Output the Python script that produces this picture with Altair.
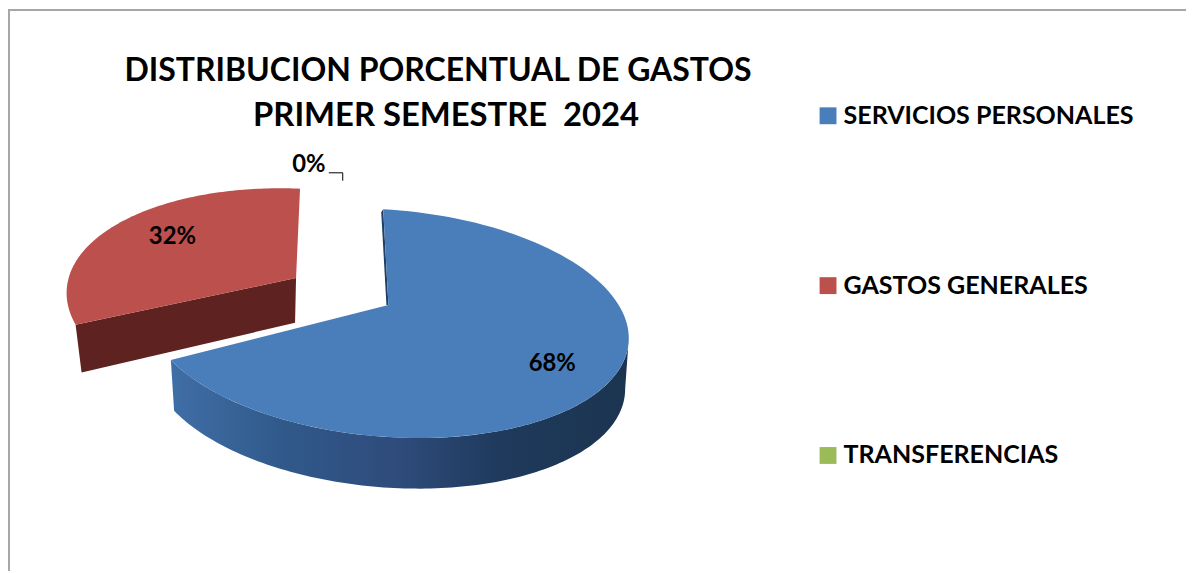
import math
import altair as alt

# --- data ---
categorias = ["SERVICIOS PERSONALES", "GASTOS GENERALES", "TRANSFERENCIAS"]
porcentajes = [68, 32, 0]
colores = ["#4a7ebb", "#bb504c", "#9bbb59"]
titulo = ["DISTRIBUCION PORCENTUAL DE GASTOS", "PRIMER SEMESTRE\u00a0\u00a02024"]
etiquetas = ["68%", "32%", "0%"]

FONT = "Lato"
W, H = 1186, 565


def ring(theta, e):
    t = math.radians(theta)
    return [e["cx"] + e["rx"] * math.sin(t), e["cy"] - e["ry"] * math.cos(t) + e["k"] * math.sin(t)]


def arc(a, b, e, n=120):
    return [ring(a + (b - a) * i / n, e) for i in range(n + 1)]


def poly(pts, cat=None):
    return {"type": "Feature", "properties": {"cat": cat},
            "geometry": {"type": "Polygon", "coordinates": [pts + [pts[0]]]}}


# 3D pie geometry derived from the shares
ang_azul = porcentajes[0] * 3.6
ang_rojo = porcentajes[1] * 3.6
azul = dict(cx=390, cy=323.5, rx=243, ry=114.5, k=15)
ap_azul = [391, 305]
rojo = dict(cx=302, cy=303, rx=235, ry=115, k=10)
ap_rojo = [298, 278]

ini_azul = -1
fin_azul = ini_azul + ang_azul
top_azul = [ap_azul] + arc(ini_azul, fin_azul, azul)

ini_rojo = 360 - ang_rojo * 0.92
top_rojo = [ap_rojo] + arc(ini_rojo, 360, rojo)

# blue outer wall
borde = arc(90, fin_azul, azul)
fondo = [[azul["cx"] + (x - azul["cx"]) * 0.985, y + 51] for x, y in borde]
pared_azul = borde + fondo[::-1]

# blue cut face (thin sliver)
p0 = ring(ini_azul, azul)
cara_azul = [p0, ap_azul, [ap_azul[0] - 2, ap_azul[1]], [p0[0] - 2, p0[1] + 3]]

# red cut face
pe = ring(ini_rojo, rojo)
cara_roja = [ap_rojo, pe, [pe[0] + 6, pe[1] + 48], [ap_rojo[0] - 1, ap_rojo[1] + 45]]


def shape(features, **kw):
    return alt.Chart(alt.Data(values=features)).mark_geoshape(**kw).project(
        type="identity", scale=1, translate=[-8, -8]
    )


grad_azul = alt.LinearGradient(
    gradient="linear", x1=0, x2=1, y1=0, y2=0,
    stops=[
        alt.GradientStop(offset=0, color="#3f6ea6"),
        alt.GradientStop(offset=0.25, color="#30598a"),
        alt.GradientStop(offset=0.5, color="#2e4b7b"),
        alt.GradientStop(offset=0.72, color="#1f3a5c"),
        alt.GradientStop(offset=1, color="#1b3450"),
    ],
)

capa_pared = shape([poly(pared_azul)], fill=grad_azul)
capa_cara_azul = shape([poly(cara_azul)], fill="#1f3f66")
capa_cara_roja = shape([poly(cara_roja)], fill="#5e2321")

capa_top = shape(
    [poly(top_azul, categorias[0]), poly(top_rojo, categorias[1])]
).encode(
    color=alt.Color(
        "properties.cat:N",
        scale=alt.Scale(domain=categorias, range=colores),
        legend=alt.Legend(
            title=None, orient="none", legendX=813, legendY=94,
            symbolType="square", symbolSize=289, symbolStrokeWidth=0,
            labelFont=FONT, labelFontWeight="bold", labelFontSize=25.2,
            labelColor="black", labelLimit=0, labelOffset=3, rowPadding=145,
            padding=0,
        ),
    )
)

sx = alt.Scale(domain=[8, 8 + W], range=[0, W])
sy = alt.Scale(domain=[8, 8 + H], range=[0, H])


def textos(rows, size):
    return alt.Chart(alt.Data(values=rows)).mark_text(
        font=FONT, fontWeight="bold", fontSize=size, color="black", align="center", baseline="middle"
    ).encode(
        x=alt.X("x:Q", scale=sx, axis=None),
        y=alt.Y("y:Q", scale=sy, axis=None),
        text="t:N",
    )


capa_titulo1 = textos([{"x": 441, "y": 70, "t": titulo[0]}], 32.2)
capa_titulo2 = textos([{"x": 449, "y": 115, "t": titulo[1]}], 33)
capa_etq = textos(
    [{"x": 556, "y": 365, "t": etiquetas[0]}, {"x": 173.5, "y": 237, "t": etiquetas[1]}, {"x": 311, "y": 164, "t": etiquetas[2]}],
    24,
)

lider = alt.Chart(alt.Data(values=[{"x": 331, "y": 172, "o": 0}, {"x": 345, "y": 172, "o": 1}, {"x": 345, "y": 180, "o": 2}])).mark_line(
    color="black", strokeWidth=1
).encode(x=alt.X("x:Q", scale=sx, axis=None), y=alt.Y("y:Q", scale=sy, axis=None), order="o:Q")

marco = alt.Chart(alt.Data(values=[{"x": 9, "y": 573, "o": 0}, {"x": 9, "y": 8, "o": 1}, {"x": 1194, "y": 8, "o": 2}])).mark_line(
    color="#a6a6a6", strokeWidth=2
).encode(x=alt.X("x:Q", scale=sx, axis=None), y=alt.Y("y:Q", scale=sy, axis=None), order="o:Q")

chart = alt.layer(
    marco, capa_pared, capa_cara_azul, capa_cara_roja, capa_top, capa_titulo1, capa_titulo2, capa_etq, lider
).properties(
    width=W, height=H, padding=0, autosize=alt.AutoSizeParams(type="none")
).configure_view(stroke=None)

chart.save("out.html", embed_options={"renderer": "svg", "actions": False})
